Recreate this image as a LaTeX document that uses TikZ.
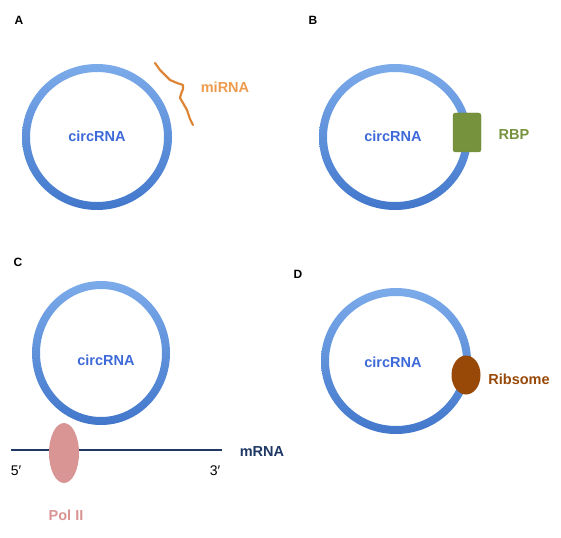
\documentclass[tikz,border=0pt]{standalone}
\usepackage{fontspec}
\setmainfont{Liberation Sans}
\usetikzlibrary{shapes.geometric}
\definecolor{ringtop}{HTML}{7CABEA}
\definecolor{ringbot}{HTML}{4277CB}
\definecolor{circtxt}{HTML}{3D6AD8}
\definecolor{mirna}{HTML}{DD8534}
\definecolor{mirnatxt}{HTML}{EE9A4D}
\definecolor{rbp}{HTML}{76923C}
\definecolor{rbpedge}{HTML}{6A8434}
\definecolor{polii}{HTML}{D99594}
\definecolor{mrna}{HTML}{1F3864}
\definecolor{ribo}{HTML}{984807}
\tikzset{
  lbl/.style={font=\fontsize{14.5}{16}\selectfont\bfseries, inner sep=0pt},
  panel/.style={font=\fontsize{12}{14}\selectfont\bfseries, inner sep=0pt},
  endlbl/.style={font=\fontsize{14}{16}\selectfont, inner sep=0pt},
  ring/.style={top color=ringtop, bottom color=ringbot, even odd rule},
}
\begin{document}
\begin{tikzpicture}[x=1pt,y=-1pt]
\useasboundingbox (0,0) rectangle (561,537);
% ---------- A ----------
\node[panel] (pA) at (19,20) {A};
\shade[ring] (97,137) ellipse [x radius=75, y radius=73] (97,137) ellipse [x radius=67, y radius=65];
\node[lbl, text=circtxt] (cA) at (97,136) {circRNA};
\coordinate (m1) at (155,63);
\coordinate (m2) at (193,125);
\draw[mirna, line width=2.2pt, line join=round, line cap=round]
  (m1) -- (160,70) -- (165,75) -- (170,80) -- (177,83) -- (183,85) -- (183,89) -- (181,94) -- (180,98) -- (183,103) -- (187,110) -- (190,119) -- (m2);
\node[lbl, text=mirnatxt] (tmi) at (225,87) {miRNA};
% ---------- B ----------
\node[panel] (pB) at (313,20) {B};
\shade[ring] (395,137) ellipse [x radius=76, y radius=73] (395,137) ellipse [x radius=68, y radius=65];
\node[lbl, text=circtxt] (cB) at (393,136) {circRNA};
\node[draw=rbpedge, fill=rbp, rounded corners=2.5pt, minimum width=28pt, minimum height=39pt, inner sep=0pt] (rbp) at (467,132.5) {};
\node[lbl, text=rbp] (trbp) at (514,135) {RBP};
% ---------- C ----------
\node[panel] (pC) at (18,262) {C};
\shade[ring] (101,353) ellipse [x radius=69, y radius=72] (101,353) ellipse [x radius=61, y radius=64];
\node[lbl, text=circtxt] (cC) at (106,360) {circRNA};
\coordinate (l5) at (11,450);
\coordinate (l3) at (222,450);
\draw[mrna, line width=1.5pt] (l5) -- (l3);
\node[ellipse, fill=polii, minimum width=30pt, minimum height=60pt, inner sep=0pt] (pol) at (64,453) {};
\node[lbl, text=mrna] (tm) at (262,452) {mRNA};
\node[endlbl] (t5) at (16,471) {5′};
\node[endlbl] (t3) at (215,471) {3′};
\node[lbl, text=polii] (tpol) at (66,515) {Pol II};
% ---------- D ----------
\node[panel] (pD) at (298,274) {D};
\shade[ring] (396,361) ellipse [x radius=75, y radius=73] (396,361) ellipse [x radius=67, y radius=65];
\node[lbl, text=circtxt] (cD) at (393,362) {circRNA};
\node[ellipse, fill=ribo, minimum width=29pt, minimum height=39pt, inner sep=0pt] (rib) at (466,375) {};
\node[lbl, text=ribo] (trib) at (519,379) {Ribsome};
\end{tikzpicture}
\end{document}
